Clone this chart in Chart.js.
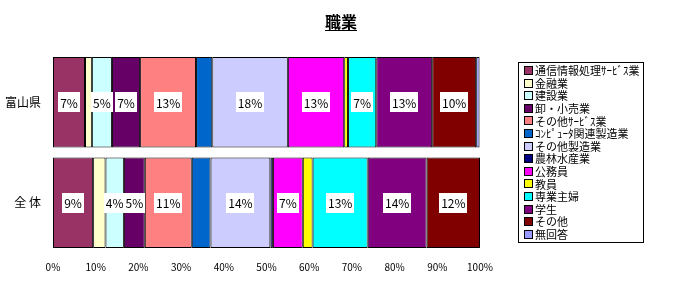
<!DOCTYPE html>
<html>
<head>
<meta charset="utf-8">
<script src="https://cdn.jsdelivr.net/npm/chart.js@4"></script>
<style>
  html, body { margin: 0; padding: 0; background: #fff; }
  #wrap { width: 682px; height: 283px; }
</style>
</head>
<body>
<div id="wrap"><canvas id="chart" width="682" height="283"></canvas></div>
<script>
// rows and job categories
const rows = ['富山県', '全 体'];
const jobs = ['通信情報処理ｻｰﾋﾞｽ業', '金融業', '建設業', '卸・小売業', 'その他ｻｰﾋﾞｽ業',
  'ｺﾝﾋﾟｭｰﾀ関連製造業', 'その他製造業', '農林水産業', '公務員', '教員',
  '専業主婦', '学生', 'その他', '無回答'];
const jobColors = ['#993366', '#FFFFCC', '#CCFFFF', '#660066', '#FF8080',
  '#0066CC', '#CCCCFF', '#000080', '#FF00FF', '#FFFF00',
  '#00FFFF', '#800080', '#800000', '#9999FF'];

// shares in %
const toyama = [7.5, 1.6, 4.7, 6.6, 13.1, 3.8, 17.7, 0, 13.2, 0.9, 6.6, 13.1, 10.3, 0.8];
const zentai = [9.4, 2.9, 4.3, 4.9, 11.0, 4.4, 14.0, 0.6, 7.0, 2.3, 12.9, 13.8, 12.5, 0];

// labels printed inside the bars
const toyamaText = ['7%', '', '5%', '7%', '13%', '', '18%', '', '13%', '', '7%', '13%', '10%', ''];
const zentaiText = ['9%', '', '4%', '5%', '11%', '', '14%', '', '7%', '', '13%', '14%', '12%', ''];

const xTicks = [0, 10, 20, 30, 40, 50, 60, 70, 80, 90, 100];

const texts = [toyamaText, zentaiText];
const font = '"MS PGothic", "Noto Sans CJK JP", sans-serif';

const datasets = jobs.map(function(name, i) {
  return {
    label: name,
    data: [toyama[i] || null, zentai[i] || null],
    backgroundColor: jobColors[i],
    borderColor: '#000',
    borderWidth: 1,
    borderSkipped: false,
    categoryPercentage: 0.9,
    barPercentage: 1
  };
});

// title, value boxes and legend box
const extras = {
  id: 'extras',
  afterDatasetsDraw(chart) {
    const ctx = chart.ctx;
    ctx.save();
    ctx.font = '12px ' + font;
    ctx.textAlign = 'center';
    ctx.textBaseline = 'middle';
    chart.data.datasets.forEach(function(ds, i) {
      const meta = chart.getDatasetMeta(i);
      meta.data.forEach(function(el, j) {
        const t = texts[j][i];
        if (!t) return;
        const cx = (el.x + el.base) / 2;
        const w = ctx.measureText(t).width + 4;
        ctx.fillStyle = '#fff';
        ctx.fillRect(Math.round(cx - w / 2), Math.round(el.y - 10), Math.round(w), 20);
        ctx.fillStyle = '#000';
        ctx.fillText(t, cx, el.y + 1);
      });
    });
    ctx.restore();
  },
  afterDraw(chart) {
    const ctx = chart.ctx;
    ctx.save();
    // title
    ctx.font = 'bold 16px ' + font;
    ctx.fillStyle = '#000';
    ctx.textAlign = 'center';
    ctx.textBaseline = 'middle';
    ctx.fillText('職業', 341, 22);
    const tw = ctx.measureText('職業').width;
    ctx.fillRect(341 - tw / 2, 30, tw, 1);

    // legend
    ctx.strokeStyle = '#000';
    ctx.lineWidth = 1;
    ctx.strokeRect(518.5, 62.5, 125, 180);
    ctx.font = '11px ' + font;
    ctx.textAlign = 'left';
    chart.data.datasets.forEach(function(ds, i) {
      const y = 70 + i * 12.6;
      ctx.fillStyle = ds.backgroundColor;
      ctx.fillRect(525, Math.round(y) - 3, 7, 7);
      ctx.strokeRect(524.5, Math.round(y) - 3.5, 8, 8);
      ctx.fillStyle = '#000';
      ctx.fillText(ds.label, 535, y + 1);
    });
    ctx.restore();
  }
};

new Chart(document.getElementById('chart'), {
  type: 'bar',
  data: { labels: rows, datasets: datasets },
  plugins: [extras],
  options: {
    indexAxis: 'y',
    responsive: false,
    animation: false,
    layout: { padding: { left: 0, right: 202, top: 52, bottom: 0 } },
    plugins: {
      legend: { display: false },
      tooltip: { enabled: false }
    },
    scales: {
      x: {
        stacked: true,
        min: 0,
        max: 100,
        afterFit: function(scale) { scale.height = 30; },
        afterBuildTicks: function(scale) {
          scale.ticks = xTicks.map(function(v) { return { value: v }; });
        },
        grid: { display: false },
        border: { display: false },
        ticks: {
          color: '#000',
          padding: 0,
          maxRotation: 0,
          font: { size: 10, family: font },
          callback: function(v) { return v + '%'; }
        }
      },
      y: {
        stacked: true,
        afterFit: function(scale) { scale.width = 53; },
        grid: { display: false },
        border: { display: false },
        ticks: {
          color: '#000',
          padding: 4,
          font: { size: 12, family: font }
        }
      }
    }
  }
});
</script>
</body>
</html>
